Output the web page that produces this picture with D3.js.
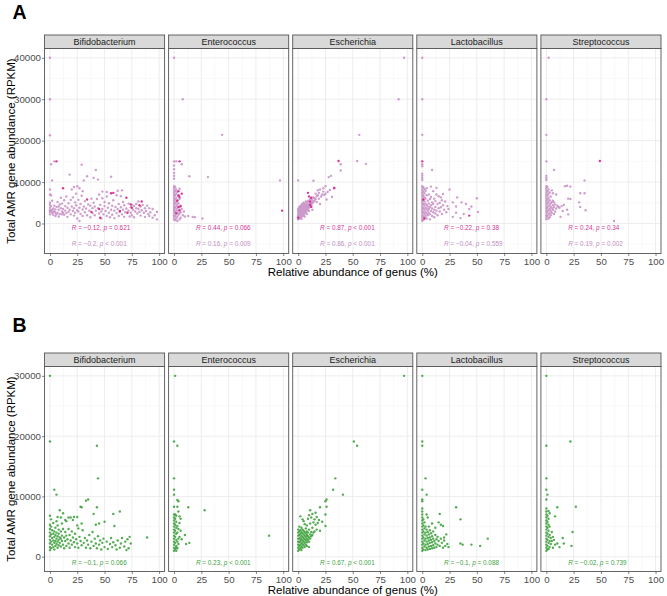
<!DOCTYPE html>
<html>
<head>
<meta charset="utf-8">
<script src="https://cdn.jsdelivr.net/npm/d3@7"></script>
<style>
  body { margin: 0; background: #fff; }
  svg { font-family: "Liberation Sans", Arial, Helvetica, sans-serif; }
</style>
</head>
<body>
<svg id="chart" width="667" height="596"></svg>
<script>
// facets
var genera = ["Bifidobacterium", "Enterococcus", "Escherichia", "Lactobacillus", "Streptococcus"];
var xTicks = [0, 25, 50, 75, 100];
var yTicksA = [0, 10000, 20000, 30000, 40000];
var yTicksB = [0, 10000, 20000, 30000];

// panel A, light points  [relative abundance %, RPKM]
var bifA_light = [[0,40000],[0,30000],[0,21300],[1,14300],[4,15000],[29,14200],[42,12900],[18,11800],[34,11400],[40,11000],[44,10600],[2,10400],[56,11300],[31,10400],[0,8200],[25,9000],[22,8800],[27,8500],[30,7800],[62,7900],[66,8000],[48,7700],[52,7600],[0,7000],[1,6800],[0,5000],[0,4500],[0,3800],[0,3200],[0,2800],[0,2200],[1,4200],[1,3000],[2,2500],[2,5500],[3,3600],[3,2100],[4,4300],[4,2900],[5,3400],[5,1800],[6,4000],[7,2600],[7,5200],[8,3300],[8,1700],[9,4600],[9,2300],[10,3700],[10,6200],[11,2900],[11,4800],[12,3500],[13,2100],[13,5600],[14,3100],[14,4200],[15,2500],[15,6500],[16,3800],[16,1600],[17,4900],[17,2800],[18,3300],[19,5700],[19,2200],[20,4100],[20,8200],[21,3000],[21,6300],[22,3700],[22,1900],[23,5100],[23,2600],[24,4400],[24,7200],[25,3200],[25,1200],[26,2900],[26,5700],[27,3800],[27,600],[28,4700],[28,2300],[29,6700],[30,3400],[30,1800],[31,4100],[32,2700],[32,5400],[33,3600],[34,2000],[35,4600],[36,3100],[37,1500],[37,4300],[38,6000],[39,2500],[39,3700],[40,5000],[41,2000],[41,4100],[42,3100],[43,5900],[44,3700],[45,2400],[45,7000],[46,4500],[47,2900],[47,1200],[48,3500],[48,6100],[49,2200],[50,4200],[50,5200],[51,3000],[52,1800],[52,6500],[53,3800],[54,2600],[54,4900],[55,1500],[56,3300],[57,4300],[57,2100],[58,5600],[59,3100],[59,1300],[60,4000],[61,2500],[61,6800],[62,3500],[63,1800],[63,4700],[64,2800],[65,3900],[65,6600],[66,2200],[67,5200],[67,3300],[68,1600],[68,4400],[69,2700],[70,3600],[72,4800],[72,3100],[73,1700],[74,3900],[74,2600],[75,4500],[75,2000],[76,3300],[77,4200],[77,1500],[78,2900],[79,3700],[79,4700],[80,2400],[81,3500],[81,5300],[82,2800],[83,4100],[83,1900],[84,3200],[85,4500],[86,2600],[87,3700],[87,1600],[88,3000],[89,4300],[90,2300],[91,3700],[91,1800],[92,2700],[94,3500],[94,1400],[96,2000],[98,2800],[98,1000],[2,3300],[3,2800],[6,2200],[8,4100],[11,2200],[12,2600],[5,2600]];
var entA_light = [[0,40000],[8,30000],[44,21400],[0,15000],[2,15000],[7,14300],[0,14000],[0,13100],[0,12200],[0,11500],[0,10800],[14,11400],[31,11200],[97,10400],[13,1800],[17,1600],[19,1500],[26,1200],[5,1000],[3,600],[0,9000],[0,8500],[0,8000],[0,7500],[0,7000],[0,6500],[0,6000],[0,5500],[0,5000],[0,4500],[0,4000],[0,3500],[0,3000],[0,2500],[0,2000],[0,1500],[0,1000],[1,8800],[1,7800],[1,6800],[1,5800],[1,4800],[1,3800],[1,2800],[1,1800],[1,800],[2,8200],[2,7200],[2,6200],[2,5200],[2,4200],[2,3200],[2,2200],[2,1200],[3,7600],[3,5600],[3,4600],[3,3600],[3,2600],[3,1600],[4,6600],[4,4900],[4,3100],[4,2100],[5,8400],[5,5900],[5,3900],[5,2400],[6,4300],[6,2700],[7,3500],[8,2000],[9,2900],[6,1400],[10,1700]];
var escA_light = [[97,40000],[92,30000],[56,21400],[54,15100],[62,14400],[39,14300],[39,12800],[30,11500],[28,11200],[0,10400],[14,10300],[33,8700],[25,9000],[23,8500],[20,8200],[18,8000],[27,7600],[24,6900],[16,7200],[19,6000],[22,7000],[31,6400],[21,6500],[15,5500],[12,5000],[17,5200],[26,5800],[20,4700],[13,3300],[10,3000],[0,1000],[0,1500],[0,2000],[0,2500],[0,3000],[0,3500],[1,1200],[1,1800],[1,2400],[1,3000],[1,3600],[1,4000],[2,1400],[2,2000],[2,2600],[2,3200],[2,3800],[2,4200],[3,1600],[3,2200],[3,2800],[3,3400],[3,4000],[3,4500],[4,1800],[4,2400],[4,3000],[4,3600],[4,4200],[4,4800],[5,2000],[5,2600],[5,3200],[5,3800],[5,4400],[5,5000],[6,2400],[6,3000],[6,3600],[6,4200],[6,4700],[7,2800],[7,3400],[7,4000],[7,4600],[7,5300],[8,3100],[8,3700],[8,4300],[8,5000],[9,3400],[9,4000],[9,4600],[9,5500],[10,3800],[10,4400],[10,5100],[11,4100],[11,4800],[11,5800],[12,4400],[12,6000],[13,4900],[13,5600],[14,5200],[14,6300],[15,6100],[16,5900],[17,6600],[18,6800],[19,7400],[23,7700],[25,7200],[29,8100],[8,2300],[3,1100],[6,1700]];
var lacA_light = [[0,40000],[0,30000],[0,21400],[0,14300],[0,13800],[9,12900],[0,12000],[0,11500],[0,11000],[0,10500],[25,8200],[32,6300],[50,6100],[45,4100],[51,2800],[40,4700],[36,5100],[31,4100],[28,5100],[31,2600],[28,1600],[38,2300],[43,3500],[35,1300],[0,9000],[0,8500],[0,8000],[0,7500],[0,7000],[0,6500],[0,6000],[0,5500],[0,5000],[0,4500],[0,4000],[0,3500],[0,3000],[0,2500],[0,2000],[0,1500],[0,1000],[0,600],[1,8700],[1,7700],[1,6700],[1,5700],[1,4700],[1,3700],[1,2700],[1,1700],[1,900],[2,8300],[2,7300],[2,6300],[2,5300],[2,4300],[2,3300],[2,2300],[2,1300],[3,7900],[3,6000],[3,4800],[3,3800],[3,2800],[3,1800],[4,8500],[4,6800],[4,4500],[4,3500],[4,2400],[4,1200],[5,5500],[5,4100],[5,3100],[5,2000],[6,7000],[6,4800],[6,3500],[6,2600],[7,5900],[7,3900],[7,2200],[7,1000],[8,8900],[8,6400],[8,4400],[8,3000],[9,5100],[9,3600],[9,1800],[10,7800],[10,4700],[10,2700],[11,6000],[11,3300],[11,1500],[12,5400],[12,4000],[12,2400],[13,7000],[13,3100],[14,4700],[14,2000],[15,6600],[15,3700],[16,5000],[16,2900],[17,3900],[18,5600],[18,2300],[19,4400],[20,3300],[21,5300],[22,2700],[23,4200],[24,3500],[19,7100],[13,8600],[17,6300]];
var strA_light = [[2,40000],[0,30000],[0,21400],[0,15000],[7,12900],[0,11500],[0,11000],[0,10500],[35,10400],[17,9000],[19,9100],[22,8900],[31,7300],[35,7300],[9,7000],[20,6000],[22,5900],[30,5100],[31,4000],[36,3200],[19,3300],[20,2200],[13,1600],[62,600],[11,4000],[6,5500],[0,9000],[0,8500],[0,8000],[0,7500],[0,7000],[0,6500],[0,6000],[0,5500],[0,5000],[0,4500],[0,4000],[0,3500],[0,3000],[0,2500],[0,2000],[0,1500],[0,1000],[1,8800],[1,7800],[1,6800],[1,5800],[1,4800],[1,3800],[1,2800],[1,1800],[2,8200],[2,7200],[2,6200],[2,5200],[2,4200],[2,3200],[2,2200],[2,1200],[3,7500],[3,5600],[3,4500],[3,3500],[3,2500],[3,1500],[4,6500],[4,4900],[4,4000],[4,3000],[4,2000],[5,5200],[5,3700],[5,2600],[6,4400],[6,3300],[7,5100],[7,3900],[7,2300],[8,4600],[8,2900],[9,3600],[10,4300],[12,3800],[14,4200],[15,3000],[16,4500],[6,7300],[5,8000]];

// panel A, dark points
var bifA_dark = [[6,15000],[12,8500],[34,5800],[56,7300],[58,7400],[70,6200],[74,4600],[82,4400],[75,3800],[45,3500],[46,1400],[71,2600],[64,3000],[84,5300],[38,2800]];
var entA_dark = [[5,15000],[7,7200],[4,6800],[5,6400],[3,5500],[6,4200],[4,4000],[5,3200],[2,2500],[99,3100],[4,7800]];
var escA_dark = [[37,15100],[33,8500],[9,7400],[10,6500],[12,6200],[11,4500],[12,4000],[0,1400],[11,5300]];
var lacA_dark = [[0,15000],[43,1900],[1,5800],[2,1200]];
var strA_dark = [[49,15100]];

// panel B
var bifB = [[0,30000],[0,19100],[43,18400],[44,13000],[4,11100],[6,10300],[33,9300],[35,9500],[28,8300],[29,8200],[43,8200],[64,7500],[58,7100],[40,7100],[9,7700],[12,7200],[0,6800],[7,6600],[17,6500],[19,6500],[22,6600],[25,6600],[50,5800],[45,5500],[42,5300],[59,5100],[89,3200],[0,5300],[0,4600],[0,4000],[0,3400],[0,2800],[0,2200],[0,1600],[0,1100],[1,5000],[1,3700],[1,2500],[1,1400],[2,4400],[2,3100],[2,2000],[3,5600],[3,3800],[3,2700],[3,1600],[4,4200],[4,3300],[4,2300],[4,1200],[5,4800],[5,3600],[5,2600],[5,1800],[6,4000],[6,3000],[6,2100],[7,5200],[7,3400],[7,2500],[7,1500],[8,4500],[8,3800],[8,2800],[8,1900],[9,3200],[9,2300],[10,4200],[10,3000],[10,1700],[11,5500],[11,3500],[11,2600],[12,4600],[12,2000],[13,3200],[13,1400],[14,4100],[14,2600],[15,5900],[15,3500],[15,1800],[16,2900],[17,4600],[17,2200],[18,3600],[18,1500],[19,2700],[20,4200],[20,2000],[21,3200],[21,6100],[22,2400],[23,1600],[23,3800],[24,2900],[25,2200],[25,5200],[26,1500],[27,3300],[28,2600],[29,1900],[30,4400],[31,2300],[32,3100],[33,1500],[34,2700],[35,2000],[36,3600],[37,1400],[38,2500],[39,4100],[40,1800],[41,3000],[42,2200],[43,1400],[44,3400],[45,2000],[46,2700],[47,1200],[48,2300],[49,3000],[50,1600],[52,2500],[53,1300],[55,2100],[56,3100],[57,1600],[58,2400],[60,1900],[61,1200],[62,2700],[64,1500],[65,2200],[66,3100],[68,1700],[69,2500],[70,1100],[71,2900],[72,1400],[73,3300],[74,2200],[26,4700],[29,5500],[10,6500],[14,6100],[6,5900],[1,6200]];
var entB = [[1,30000],[0,19100],[3,18400],[0,13000],[0,11100],[0,10300],[3,9400],[4,9200],[0,8300],[3,8300],[13,8200],[28,7700],[4,7500],[1,7000],[2,6800],[5,6700],[5,5600],[10,3600],[5,3300],[87,3500],[11,2100],[14,2300],[2,1600],[0,7000],[0,6500],[0,6000],[0,5500],[0,5000],[0,4500],[0,4000],[0,3500],[0,3000],[0,2500],[0,2000],[0,1500],[0,1000],[1,6300],[1,5300],[1,4300],[1,3300],[1,2300],[1,1300],[2,5800],[2,4800],[2,3800],[2,2800],[2,1800],[2,1000],[3,5100],[3,4000],[3,2500],[3,1400],[4,4600],[4,2100],[6,4300],[6,6300],[7,2900],[4,3000]];
var escB = [[97,30000],[51,19100],[54,18400],[34,13000],[32,11100],[41,10300],[26,9500],[25,9200],[26,8300],[20,8200],[11,7700],[25,7000],[25,5100],[2,6700],[16,7300],[13,7100],[17,6600],[12,6500],[9,6300],[15,6200],[19,6100],[14,5700],[11,5500],[18,5600],[16,5300],[22,5800],[6,5400],[8,5200],[4,6200],[5,5900],[10,6900],[7,4700],[13,4800],[17,4500],[20,4300],[10,4500],[0,1000],[0,1500],[0,2000],[0,2500],[0,3000],[0,3500],[0,4000],[0,4500],[1,1200],[1,1800],[1,2400],[1,3000],[1,3600],[1,4200],[1,5000],[2,1400],[2,2000],[2,2600],[2,3200],[2,3800],[2,4400],[3,1100],[3,1700],[3,2300],[3,2900],[3,3500],[3,4100],[3,4800],[4,1500],[4,2100],[4,2700],[4,3300],[4,3900],[4,4500],[5,1900],[5,2500],[5,3100],[5,3700],[5,4300],[6,1600],[6,2300],[6,2900],[6,3500],[6,4100],[7,2000],[7,2700],[7,3300],[7,3900],[8,2400],[8,3000],[8,3600],[8,4200],[9,2800],[9,3400],[9,4000],[10,2500],[10,3200],[11,3000],[11,3700],[12,3400],[12,4100],[13,3600],[14,4000],[15,4200],[8,1800],[10,1600]];
var lacB = [[0,30000],[0,19100],[0,18400],[3,13000],[0,11100],[4,10300],[0,9500],[0,9200],[31,8200],[35,6200],[16,7100],[4,7000],[5,6500],[15,5700],[17,5300],[19,5100],[22,3700],[20,3200],[35,2200],[37,2000],[45,2000],[53,1800],[60,3000],[23,2100],[24,1600],[0,8000],[0,7500],[0,7000],[0,6500],[0,6000],[0,5500],[0,5000],[0,4500],[0,4000],[0,3500],[0,3000],[0,2500],[0,2000],[0,1500],[0,1000],[1,6200],[1,5200],[1,4200],[1,3200],[1,2200],[1,1200],[2,5700],[2,4700],[2,3700],[2,2700],[2,1700],[3,5000],[3,4000],[3,3000],[3,2000],[3,1100],[4,4500],[4,3500],[4,2500],[4,1500],[5,4100],[5,3100],[5,2100],[5,1200],[6,3700],[6,2700],[6,1700],[7,4400],[7,3200],[7,2300],[7,1300],[8,3900],[8,2800],[8,1800],[9,3400],[9,2400],[9,1400],[10,4200],[10,3000],[10,1900],[11,2600],[11,1500],[12,3600],[12,2200],[13,2900],[13,1600],[14,3300],[14,2000],[15,2600],[16,1800],[17,3000],[18,2300],[19,1500],[20,2700],[21,1800],[12,4800],[9,5500],[6,5000]];
var strB = [[0,30000],[22,19100],[0,18400],[0,13000],[0,11100],[1,10300],[0,9500],[27,8300],[10,8200],[8,6700],[24,4100],[15,3100],[16,2200],[23,1800],[12,1600],[10,2200],[5,4100],[0,8000],[0,7500],[0,7000],[0,6500],[0,6000],[0,5500],[0,5000],[0,4500],[0,4000],[0,3500],[0,3000],[0,2500],[0,2000],[0,1500],[0,1000],[1,6800],[1,5800],[1,4800],[1,3800],[1,2800],[1,1800],[1,1200],[2,6300],[2,5300],[2,4300],[2,3300],[2,2300],[2,1300],[3,5000],[3,3600],[3,2600],[3,1600],[4,3100],[4,2100],[5,2600],[6,3300],[6,1500],[7,2800],[8,2000],[3,7200],[2,7600]];

// correlation labels
var corA_dark = [["\u22120.12", "= 0.621"], ["0.44", "= 0.066"], ["0.87", "< 0.001"], ["\u22120.22", "= 0.38"], ["0.24", "= 0.34"]];
var corA_light = [["\u22120.2", "< 0.001"], ["0.16", "= 0.009"], ["0.86", "< 0.001"], ["\u22120.04", "= 0.559"], ["0.19", "= 0.002"]];
var corB = [["\u22120.1", "= 0.066"], ["0.23", "< 0.001"], ["0.67", "< 0.001"], ["\u22120.1", "= 0.088"], ["\u22120.02", "= 0.739"]];

var lightA = [bifA_light, entA_light, escA_light, lacA_light, strA_light];
var darkA = [bifA_dark, entA_dark, escA_dark, lacA_dark, strA_dark];
var greenB = [bifB, entB, escB, lacB, strB];

var colLight = "#c994c7", colDark = "#d4268c", colGreen = "#41a33f";
var colLabDark = "#d0399a", colLabLight = "#c28fc2";

var svg = d3.select("#chart");
var plotL = 44.5, plotR = 661, gap = 4;
var pw = (plotR - plotL - gap * 4) / 5;

var x = d3.scaleLinear().domain([-5, 105]).range([0, pw]);

function drawFigure(opt) {
  var y = d3.scaleLinear().domain(opt.yDomain).range([opt.bottom, opt.top]);
  var g = svg.append("g");

  // tag letter
  g.append("text").attr("x", 12.5).attr("y", opt.tagY)
    .attr("font-size", 19.5).attr("font-weight", "bold").text(opt.tag);

  genera.forEach(function(name, i) {
    var px = plotL + i * (pw + gap);
    var p = g.append("g").attr("transform", "translate(" + px + ",0)");

    // grid
    var minorX = [12.5, 37.5, 62.5, 87.5];
    var minorY = [];
    for (var k = 0; k < opt.yTicks.length; k++) minorY.push(opt.yTicks[k] - 5000);
    minorY.push(opt.yTicks[opt.yTicks.length - 1] + 5000);
    minorY = minorY.filter(function(v) { return v > opt.yDomain[0] && v < opt.yDomain[1]; });

    p.selectAll(".mx").data(minorX).enter().append("line")
      .attr("x1", d => x(d)).attr("x2", d => x(d)).attr("y1", opt.top).attr("y2", opt.bottom)
      .attr("stroke", "#f3f3f3").attr("stroke-width", 0.5);
    p.selectAll(".my").data(minorY).enter().append("line")
      .attr("x1", 0).attr("x2", pw).attr("y1", d => y(d)).attr("y2", d => y(d))
      .attr("stroke", "#f3f3f3").attr("stroke-width", 0.5);
    p.selectAll(".gx").data(xTicks).enter().append("line")
      .attr("x1", d => x(d)).attr("x2", d => x(d)).attr("y1", opt.top).attr("y2", opt.bottom)
      .attr("stroke", "#ebebeb").attr("stroke-width", 0.9);
    p.selectAll(".gy").data(opt.yTicks).enter().append("line")
      .attr("x1", 0).attr("x2", pw).attr("y1", d => y(d)).attr("y2", d => y(d))
      .attr("stroke", "#ebebeb").attr("stroke-width", 0.9);

    // points
    opt.layers.forEach(function(layer) {
      p.selectAll(null).data(layer.data[i]).enter().append("circle")
        .attr("cx", d => x(d[0])).attr("cy", d => y(d[1]))
        .attr("r", 1.2).attr("fill", layer.color).attr("fill-opacity", 0.9);
    });

    // correlation text
    opt.labels.forEach(function(lab) {
      var t = p.append("text").attr("x", x(20)).attr("y", y(lab.at))
        .attr("dy", "0.35em").attr("font-size", 6.4).attr("fill", lab.color);
      var c = lab.data[i];
      t.append("tspan").attr("font-style", "italic").text("R");
      t.append("tspan").text(" = " + c[0] + ", ");
      t.append("tspan").attr("font-style", "italic").text("p");
      t.append("tspan").text(" " + c[1]);
    });

    // border
    p.append("rect").attr("x", 0).attr("y", opt.top).attr("width", pw).attr("height", opt.bottom - opt.top)
      .attr("fill", "none").attr("stroke", "#555").attr("stroke-width", 0.9);

    // strip
    p.append("rect").attr("x", 0).attr("y", opt.stripTop).attr("width", pw).attr("height", opt.top - opt.stripTop)
      .attr("fill", "#d9d9d9").attr("stroke", "#555").attr("stroke-width", 0.9);
    p.append("text").attr("x", pw / 2).attr("y", (opt.stripTop + opt.top) / 2).attr("dy", "0.35em")
      .attr("text-anchor", "middle").attr("font-size", 9).attr("fill", "#1a1a1a").text(name);

    // x axis
    var xa = p.append("g").attr("transform", "translate(0," + opt.bottom + ")")
      .call(d3.axisBottom(x).tickValues(xTicks).tickSize(2.5).tickPadding(2).tickSizeOuter(0));
    xa.select(".domain").remove();
    xa.selectAll("line").attr("stroke", "#333").attr("stroke-width", 0.6);
    xa.selectAll("text").attr("font-size", 9.7).attr("fill", "#4d4d4d").attr("font-family", null);

    // y axis on first panel
    if (i === 0) {
      var ya = p.append("g")
        .call(d3.axisLeft(y).tickValues(opt.yTicks).tickFormat(d3.format("d")).tickSize(2.5).tickPadding(1).tickSizeOuter(0));
      ya.select(".domain").remove();
      ya.selectAll("line").attr("stroke", "#333").attr("stroke-width", 0.6);
      ya.selectAll("text").attr("font-size", 9.7).attr("fill", "#4d4d4d").attr("font-family", null);
    }
  });

  // axis titles
  g.append("text").attr("x", (plotL + plotR) / 2).attr("y", opt.bottom + 22.5)
    .attr("text-anchor", "middle").attr("font-size", 11.5).attr("fill", "#000")
    .text("Relative abundance of genus (%)");
  g.append("text")
    .attr("transform", "translate(14.5," + ((opt.top + opt.bottom) / 2) + ") rotate(-90)")
    .attr("text-anchor", "middle").attr("font-size", 11.5).attr("fill", "#000")
    .text("Total AMR gene abundance (RPKM)");
}

drawFigure({
  tag: "A", tagY: 18.5,
  stripTop: 35, top: 48.5, bottom: 253.5,
  yDomain: [-7250, 42250], yTicks: yTicksA,
  layers: [{ data: lightA, color: colLight }, { data: darkA, color: colDark }],
  labels: [{ data: corA_dark, color: colLabDark, at: -1000 }, { data: corA_light, color: colLabLight, at: -5000 }]
});

drawFigure({
  tag: "B", tagY: 331.5,
  stripTop: 353, top: 366.5, bottom: 571.5,
  yDomain: [-2450, 31550], yTicks: yTicksB,
  layers: [{ data: greenB, color: colGreen }],
  labels: [{ data: corB, color: colGreen, at: -1000 }]
});
</script>
</body>
</html>
